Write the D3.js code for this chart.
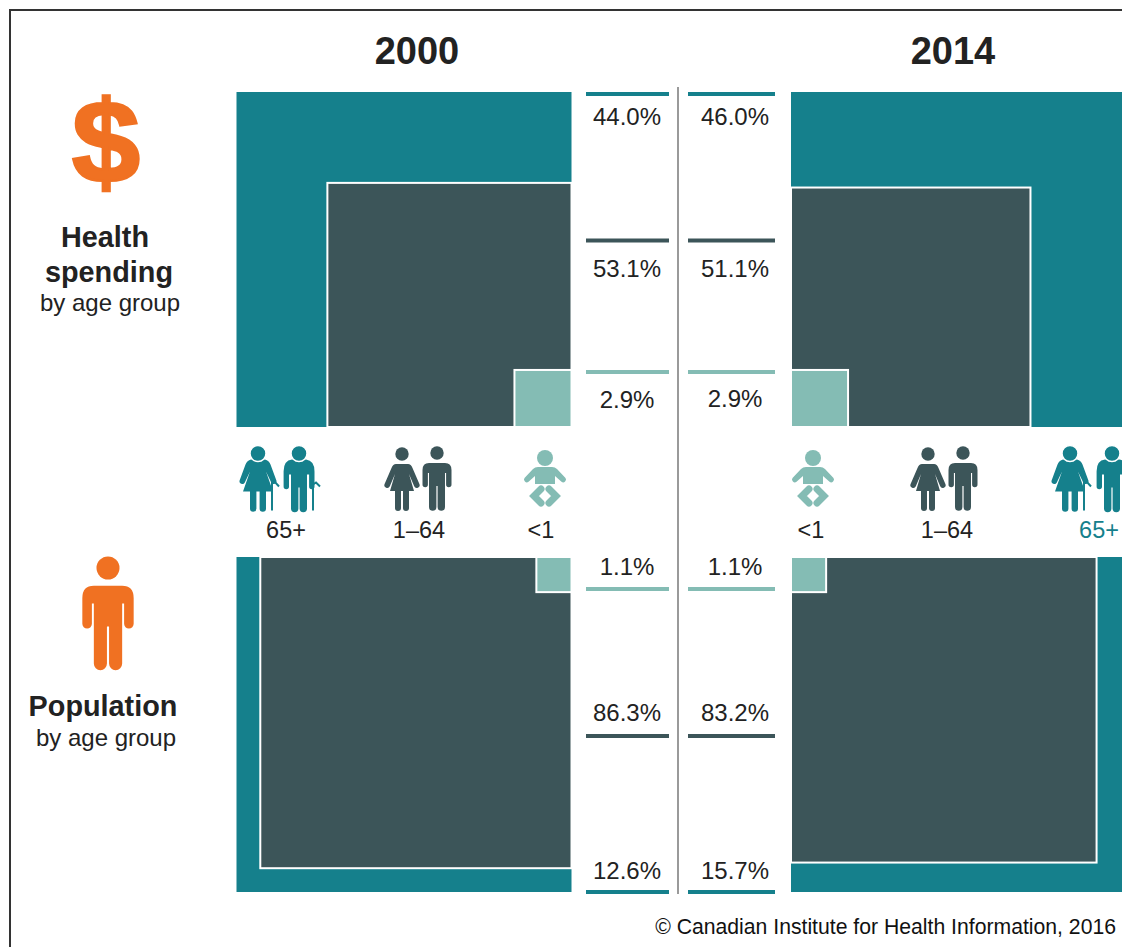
<!DOCTYPE html>
<html>
<head>
<meta charset="utf-8">
<script src="https://cdnjs.cloudflare.com/ajax/libs/d3/7.8.5/d3.min.js"></script>
<style>
    html, body { margin: 0; padding: 0; background: #fff; overflow: hidden; }
    text { font-family: "Liberation Sans", Arial, sans-serif; fill: #222; }
</style>
</head>
<body>
<div id="chart"></div>
<script>
// chart values, order is 65+, 1-64, <1
const years = ["2000", "2014"];
const ageGroups = ["65+", "1\u201364", "<1"];
const spending2000 = [44.0, 53.1, 2.9];
const spending2014 = [46.0, 51.1, 2.9];
const population2000 = [12.6, 86.3, 1.1];
const population2014 = [15.7, 83.2, 1.1];

const colors = {"65+": "#15808c", "1\u201364": "#3c5559", "<1": "#84bcb4"};
const orange = "#f07122";

const width = 1122, height = 947;

let svg = d3.select("#chart").append("svg")
    .attr("width", width)
    .attr("height", height)
    .style("display", "block");

// frame, only top and left show up
svg.append("path")
    .attr("d", `M10,${height} V10 H${width}`)
    .attr("fill", "none")
    .attr("stroke", "#333")
    .attr("stroke-width", 2);

// square side goes with the root of the share
let side = d3.scaleSqrt().domain([0, 100]).range([0, 335]);

// one block of nested squares, anchored on the corner next to the middle
function drawSquares(values, x0, y0, anchorRight, anchorBottom) {
    let g = svg.append("g").attr("transform", `translate(${x0}, ${y0})`);
    let boxes = [
        {group: ageGroups[0], s: side(100), line: false},
        {group: ageGroups[1], s: side(values[1]), line: true},
        {group: ageGroups[2], s: side(values[2]), line: true}
    ];
    g.selectAll("rect")
        .data(boxes)
        .enter().append("rect")
        .attr("x", d => anchorRight ? side(100) - d.s : 0)
        .attr("y", d => anchorBottom ? side(100) - d.s : 0)
        .attr("width", d => d.s)
        .attr("height", d => d.s)
        .attr("fill", d => colors[d.group])
        .attr("stroke", d => d.line ? "#fff" : "none")
        .attr("stroke-width", 2);
}

drawSquares(spending2000, 236.5, 92, true, true);
drawSquares(spending2014, 791, 92, false, true);
drawSquares(population2000, 236.5, 557, true, false);
drawSquares(population2014, 791, 557, false, false);

// middle line
svg.append("line")
    .attr("x1", 678).attr("x2", 678)
    .attr("y1", 87).attr("y2", 894)
    .attr("stroke", "#9a9a9a")
    .attr("stroke-width", 2);

// percent labels and their small bars
function drawPercents(values, barY, textY, barX, barW, textX) {
    values.forEach((v, i) => {
        svg.append("rect")
            .attr("x", barX).attr("y", barY[i] - 2)
            .attr("width", barW).attr("height", 4)
            .attr("fill", colors[ageGroups[i]]);
        svg.append("text")
            .attr("x", textX).attr("y", textY[i])
            .attr("text-anchor", "middle")
            .attr("font-size", 24)
            .text(v.toFixed(1) + "%");
    });
}

drawPercents(spending2000, [94, 240.5, 372], [125, 277, 408], 586, 83, 627);
drawPercents(spending2014, [94, 240.5, 372], [125, 277, 407], 688, 87, 735);
// population runs the other way, <1 on top and 65+ at the bottom
drawPercents(population2000, [892, 736, 589], [879, 721, 575], 586, 83, 627);
drawPercents(population2014, [892, 736, 589], [879, 721, 575], 688, 87, 735);

// year titles
svg.selectAll(".year")
    .data(years)
    .enter().append("text")
    .attr("class", "year")
    .attr("x", (d, i) => i === 0 ? 417 : 953)
    .attr("y", 64)
    .attr("text-anchor", "middle")
    .attr("font-size", 38)
    .attr("font-weight", "bold")
    .text(d => d);

// left side headings
function heading(str, x, y, bold) {
    svg.append("text")
        .attr("x", x).attr("y", y)
        .attr("text-anchor", "middle")
        .attr("font-size", bold ? 28.8 : 24)
        .attr("font-weight", bold ? "bold" : "normal")
        .text(str);
}
heading("Health", 105, 247, true);
heading("spending", 109, 282, true);
heading("by age group", 110, 311, false);
heading("Population", 103, 716, true);
heading("by age group", 106, 746, false);

// dollar sign
svg.append("text")
    .attr("transform", "translate(106, 182) scale(1.06, 1)")
    .attr("text-anchor", "middle")
    .attr("font-size", 116)
    .attr("font-weight", "bold")
    .style("fill", orange)
    .style("stroke", orange)
    .style("stroke-width", 2.5)
    .text("$");

// age labels under the spending squares
const labelRows = [
    {label: ageGroups[0], x: 286, color: "#222"},
    {label: ageGroups[1], x: 419, color: "#222"},
    {label: ageGroups[2], x: 541, color: "#222"},
    {label: ageGroups[2], x: 811, color: "#222"},
    {label: ageGroups[1], x: 947, color: "#222"},
    {label: ageGroups[0], x: 1099, color: colors[ageGroups[0]]}
];
svg.selectAll(".age")
    .data(labelRows)
    .enter().append("text")
    .attr("class", "age")
    .attr("x", d => d.x)
    .attr("y", 538)
    .attr("text-anchor", "middle")
    .attr("font-size", 23.5)
    .style("fill", d => d.color)
    .text(d => d.label);

// people icons, origin is the centre of the head
const manPath = "M-8,10 H8 Q14.5,10 14.5,17 V31.5 a2.7,2.7 0 0 1 -5.4,0 V20 H8 V54 a3.5,3.5 0 0 1 -7.4,0 V33 H-.6 V54 a3.5,3.5 0 0 1 -7.4,0 V20 H-9.1 V31.5 a2.7,2.7 0 0 1 -5.4,0 V17 Q-14.5,10 -8,10 Z";
const womanPath = "M-6,10 H6 Q9,10 10.5,14 L17.4,30 a2.8,2.8 0 0 1 -5.2,2.2 L7,20 L12,37 H7 V54 a3,3 0 0 1 -6,0 V37 H-1 V54 a3,3 0 0 1 -6,0 V37 H-12 L-7,20 L-12.2,32.2 a2.8,2.8 0 0 1 -5.2,-2.2 L-10.5,14 Q-9,10 -6,10 Z";
const oldManPath = "M-7,6 H7 Q15.5,7 15.5,18 V33 a2.7,2.7 0 0 1 -5.4,0 V21 H8 V55 a3.5,3.5 0 0 1 -7.4,0 V34 H-.6 V55 a3.5,3.5 0 0 1 -7.4,0 V21 H-10 V33 a2.7,2.7 0 0 1 -5.4,0 V18 Q-15.5,7 -7,6 Z";
const oldWomanPath = "M-7,6 H7 Q11,7 12.5,11 L18.4,27 a2.8,2.8 0 0 1 -5.2,2 L8,18 L15,38 H8 V55 a3.2,3.2 0 0 1 -6.4,0 V38 H-1.6 V55 a3.2,3.2 0 0 1 -6.4,0 V38 H-15 L-8,18 L-13.2,29 a2.8,2.8 0 0 1 -5.2,-2 L-12.5,11 Q-11,7 -7,6 Z";

function person(x, y, path, r, color, k) {
    let g = svg.append("g").attr("transform", `translate(${x}, ${y}) scale(${k || 1})`);
    g.append("path").attr("d", path).attr("fill", color);
    g.append("circle").attr("r", r).attr("fill", color)
        .attr("stroke", "#fff").attr("stroke-width", r > 7 ? 1.5 : 0);
    return g;
}

function elderPair(x1, x2, y, color) {
    let w = person(x1, y, oldWomanPath, 8, color);
    w.append("path")
        .attr("d", "M14,57 V29 L17,28.5 L21,33")
        .attr("fill", "none").attr("stroke", color).attr("stroke-width", 2);
    let m = person(x2, y, oldManPath, 8, color);
    m.append("path")
        .attr("d", "M14,57 V31 L17,29 L21,33")
        .attr("fill", "none").attr("stroke", color).attr("stroke-width", 2);
}

function baby(x, y, color) {
    let g = svg.append("g").attr("transform", `translate(${x}, ${y})`);
    g.append("circle").attr("r", 8).attr("fill", color);
    g.append("path")
        .attr("d", "M-7,9 H7 Q10,9 12,11 L20.5,20 a2.8,2.8 0 0 1 -4,3.8 L10,18 V26 H-10 V18 L-16.5,23.8 a2.8,2.8 0 0 1 -4,-3.8 L-12,11 Q-10,9 -7,9 Z")
        .attr("fill", color);
    g.append("path")
        .attr("d", "M-4,31 L-11,38 L-4,45 M4,31 L11,38 L4,45")
        .attr("fill", "none").attr("stroke", color).attr("stroke-width", 7)
        .attr("stroke-linecap", "round");
}

const elder = colors[ageGroups[0]], adult = colors[ageGroups[1]], infant = colors[ageGroups[2]];

elderPair(258, 299, 453.5, elder);
person(402, 454, womanPath, 6.7, adult);
person(437, 453, manPath, 6.7, adult);
baby(545, 458, infant);

baby(813, 458, infant);
person(928, 454, womanPath, 6.7, adult);
person(963, 453, manPath, 6.7, adult);
elderPair(1070, 1112, 453.5, elder);

// big orange person
person(108, 568, manPath, 6.5, orange, 1.77);

// source line
svg.append("text")
    .attr("x", 1116).attr("y", 934)
    .attr("text-anchor", "end")
    .attr("font-size", 21.2)
    .style("fill", "#111")
    .text("\u00a9 Canadian Institute for Health Information, 2016");
</script>
</body>
</html>
